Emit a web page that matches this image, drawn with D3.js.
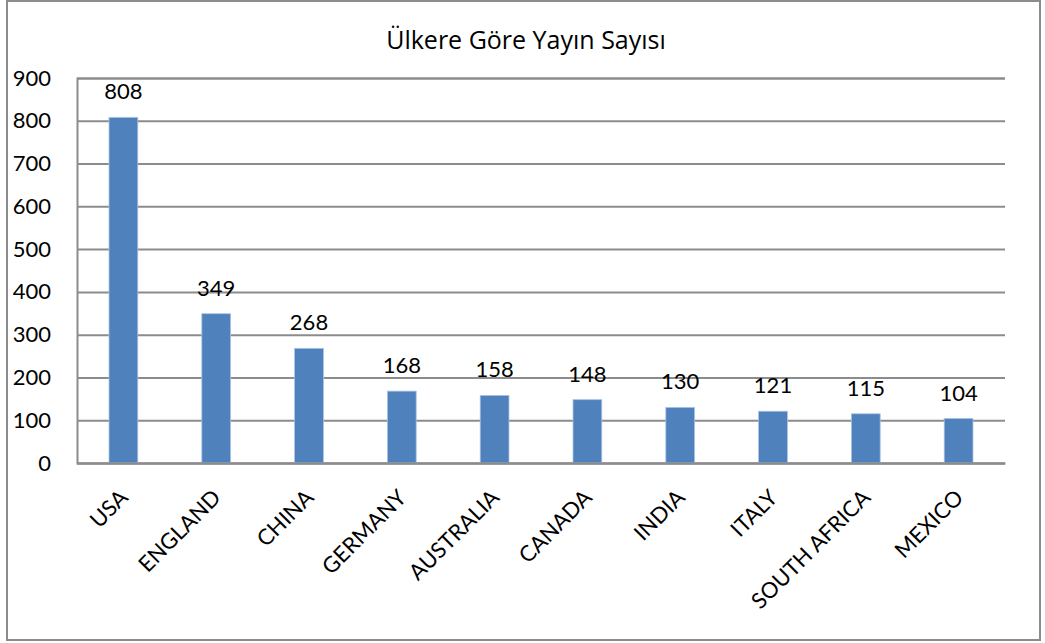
<!DOCTYPE html>
<html>
<head>
<meta charset="utf-8">
<script src="https://cdn.jsdelivr.net/npm/d3@7"></script>
<style>
  body { margin: 0; background: #fff; }
  text { font-family: Lato, "Liberation Sans", sans-serif; fill: #000; }
</style>
</head>
<body>
<svg></svg>
<script>
// chart data
const countries = ["USA", "ENGLAND", "CHINA", "GERMANY", "AUSTRALIA", "CANADA", "INDIA", "ITALY", "SOUTH AFRICA", "MEXICO"];
const counts = [808, 349, 268, 168, 158, 148, 130, 121, 115, 104];
const yTicks = [0, 100, 200, 300, 400, 500, 600, 700, 800, 900];
const title = "Ülkere Göre Yayın Sayısı";

let width = 1045;
let height = 643;
let plot = { left: 77, right: 1005, top: 78, bottom: 463 };
let svg = d3.select('svg');

let rows = countries.map((c, i) => ({ country: c, value: counts[i] }));

svg.attr('width', width)
   .attr('height', height);

// outer frame
svg.append('rect')
   .attr('x', 7)
   .attr('y', 1)
   .attr('width', 1033)
   .attr('height', 639)
   .attr('fill', '#fff')
   .attr('stroke', '#8c8c8c')
   .attr('stroke-width', 2);

svg.append('text')
   .attr('x', 526)
   .attr('y', 49)
   .attr('text-anchor', 'middle')
   .style('font-family', '"Open Sans", sans-serif')
   .style('font-size', '25px')
   .text(title);

const xScale = d3.scaleBand()
                 .domain(countries)
                 .range([plot.left, plot.right])
                 .paddingInner(0.69)
                 .paddingOuter(0.345);

const yScale = d3.scaleLinear()
                 .domain([0, 900])
                 .range([plot.bottom, plot.top]);

// gridlines + y labels
const yAxis = d3.axisLeft(yScale)
                .tickValues(yTicks)
                .tickSize(-(plot.right - plot.left))
                .tickPadding(26);

let gy = svg.append('g')
   .attr('id', 'y-axis')
   .attr('transform', 'translate(' + plot.left + ', 0)')
   .call(yAxis);

gy.select('.domain').attr('stroke', '#8c8c8c').attr('stroke-width', 2);
gy.selectAll('.tick line').attr('stroke', '#8c8c8c').attr('stroke-width', 2);
gy.selectAll('.tick text')
  .style('font-size', '22px')
  .style('font-family', 'Lato, "Liberation Sans", sans-serif')
  .attr('fill', '#000');

// bars
svg.selectAll('rect.bar')
   .data(rows)
   .enter()
   .append('rect')
   .attr('class', 'bar')
   .attr('x', (d) => xScale(d.country))
   .attr('y', (d) => yScale(d.value))
   .attr('width', xScale.bandwidth())
   .attr('height', (d) => plot.bottom - yScale(d.value))
   .attr('fill', '#4f81bd')
   .attr('stroke', '#a9c2e2')
   .attr('stroke-width', 0.8);

// value labels
svg.selectAll('text.value')
   .data(rows)
   .enter()
   .append('text')
   .attr('class', 'value')
   .attr('x', (d) => xScale(d.country) + xScale.bandwidth() / 2)
   .attr('y', (d) => yScale(d.value) - 18)
   .attr('text-anchor', 'middle')
   .style('font-size', '22px')
   .text((d) => d.value);

// x axis
const xAxis = d3.axisBottom(xScale).tickSize(0).tickFormat((d) => d);

let gx = svg.append('g')
   .attr('id', 'x-axis')
   .attr('transform', 'translate(0, ' + plot.bottom + ')')
   .call(xAxis);

gx.select('.domain').attr('stroke', '#8c8c8c').attr('stroke-width', 2);
gx.selectAll('.tick text')
  .style('font-size', '22px')
  .style('font-family', 'Lato, "Liberation Sans", sans-serif')
  .attr('fill', '#000')
  .attr('text-anchor', 'end')
  .attr('dy', 0)
  .attr('y', 0)
  .attr('transform', 'translate(6, 36) rotate(-45)');
</script>
</body>
</html>
